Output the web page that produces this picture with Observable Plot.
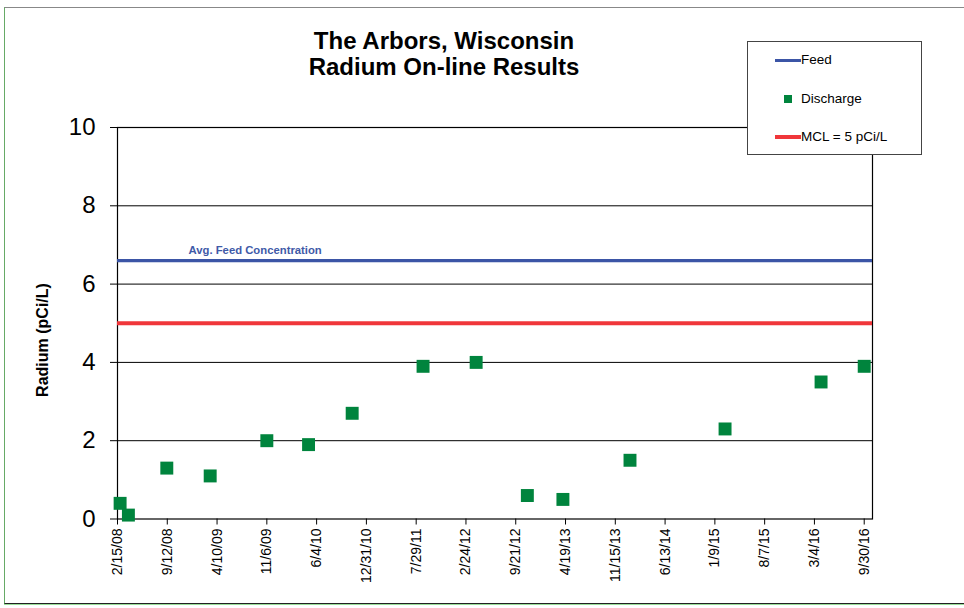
<!DOCTYPE html>
<html><head><meta charset="utf-8">
<script src="https://cdn.jsdelivr.net/npm/d3@7"></script>
<script src="https://cdn.jsdelivr.net/npm/@observablehq/plot@0.6"></script>
<style>
body{margin:0;background:#fff;font-family:"Liberation Sans",Arial,sans-serif;}
#wrap{position:relative;width:964px;height:608px;overflow:hidden;background:#fff;}
#border{position:absolute;left:4px;top:7px;width:970px;height:595px;border-top:1px solid #888;border-left:1px solid #6a6;border-bottom:1px solid #222;box-shadow:0 1px 0 #9d9;}
#chart{position:absolute;left:0;top:0;}
#title{position:absolute;left:244px;width:400px;top:28px;text-align:center;font-weight:bold;font-size:24px;line-height:25.5px;color:#000;}
#ylabel{position:absolute;left:-57.3px;top:330px;width:200px;height:20px;line-height:20px;text-align:center;font-weight:bold;font-size:16px;color:#000;transform:rotate(-90deg);transform-origin:50% 50%;}
#legend{position:absolute;left:747px;top:41px;width:173px;height:112px;border:1px solid #444;background:#fff;font-size:13.5px;color:#000;}
.li{position:absolute;left:53px;}
.ln{position:absolute;left:27px;width:26px;height:3px;}
.sq{position:absolute;left:36px;width:8px;height:8px;background:#00843d;}
</style></head><body>
<div id="wrap">
  <div id="border"></div>
  <div id="chart"></div>
  <div id="title">The Arbors, Wisconsin<br>Radium On-line Results</div>
  <div id="ylabel"></div>
  <div id="legend">
    <div class="ln" style="top:17px;background:#3b55a6"></div><div class="li" style="top:10px">Feed</div>
    <div class="sq" style="top:53px"></div><div class="li" style="top:49px">Discharge</div>
    <div class="ln" style="top:93px;height:3.5px;background:#f0363a"></div><div class="li" style="top:87px">MCL = 5 pCi/L</div>
  </div>
</div>
<script>
// Discharge sample dates and radium values (pCi/L)
const sampleDates = ["2008-02-26","2008-04-01","2008-09-10","2009-03-12","2009-11-06","2010-05-01","2010-11-01","2011-08-27","2012-04-07","2012-11-09","2013-04-08","2014-01-16","2015-02-21","2016-04-01","2016-09-30"];
const dischargeValues = [0.4,0.1,1.3,1.1,2.0,1.9,2.7,3.9,4.0,0.6,0.5,1.5,2.3,3.5,3.9];
const feedAvg = 6.6;
const mclValue = 5;
const feedLabel = "Avg. Feed Concentration";
const yLabel = "Radium (pCi/L)";
const xTickDates = ["2008-02-15","2008-09-12","2009-04-10","2009-11-06","2010-06-04","2010-12-31","2011-07-29","2012-02-24","2012-09-21","2013-04-19","2013-11-15","2014-06-13","2015-01-09","2015-08-07","2016-03-04","2016-09-30"];
const yTicks = [0,2,4,6,8,10];
const xDomain = ["2008-02-15","2016-11-04"];

document.getElementById("ylabel").textContent = yLabel;

const parse = d3.utcParse("%Y-%m-%d");
const data = sampleDates.map((d,i)=>({date: parse(d), value: dischargeValues[i]}));
const fmt = d => `${d.getUTCMonth()+1}/${d.getUTCDate()}/${String(d.getUTCFullYear()).slice(2)}`;

const chart = Plot.plot({
  width: 964, height: 608,
  marginLeft: 117, marginRight: 92, marginTop: 127, marginBottom: 89.5,
  style: {fontFamily: "'Liberation Sans', Arial, sans-serif", background: "transparent", overflow: "visible", color: "#000"},
  x: {type: "utc", domain: xDomain.map(parse)},
  y: {domain: [0, 10]},
  marks: [
    Plot.gridY(yTicks.filter(v => v > 0), {stroke: "#000", strokeOpacity: 1, strokeWidth: 1}),
    Plot.frame({stroke: "#000", strokeWidth: 1.2}),
    Plot.ruleY([feedAvg], {stroke: "#3b55a6", strokeWidth: 3.3}),
    Plot.ruleY([mclValue], {stroke: "#f0363a", strokeWidth: 4}),
    Plot.text([feedLabel], {frameAnchor: "left", y: () => feedAvg, text: d => d, textAnchor: "start", lineAnchor: "bottom", dx: 71, dy: -7, fontWeight: "bold", fontSize: 11.3, fill: "#3f5aa8"}),
    Plot.dot(data, {x: "date", y: "value", symbol: "square", r: 7.3, fill: "#00843d", stroke: null}),
    Plot.axisY({ticks: yTicks, tickSize: 7, tickPadding: 15, fontSize: 24, label: null, stroke: "#000"}),
    Plot.axisX({ticks: xTickDates.map(parse), tickFormat: fmt, tickRotate: -90, tickSize: 6, tickPadding: 3.5, fontSize: 14, label: null, stroke: "#000"})
  ]
});
document.getElementById("chart").appendChild(chart);
</script>
</body></html>
